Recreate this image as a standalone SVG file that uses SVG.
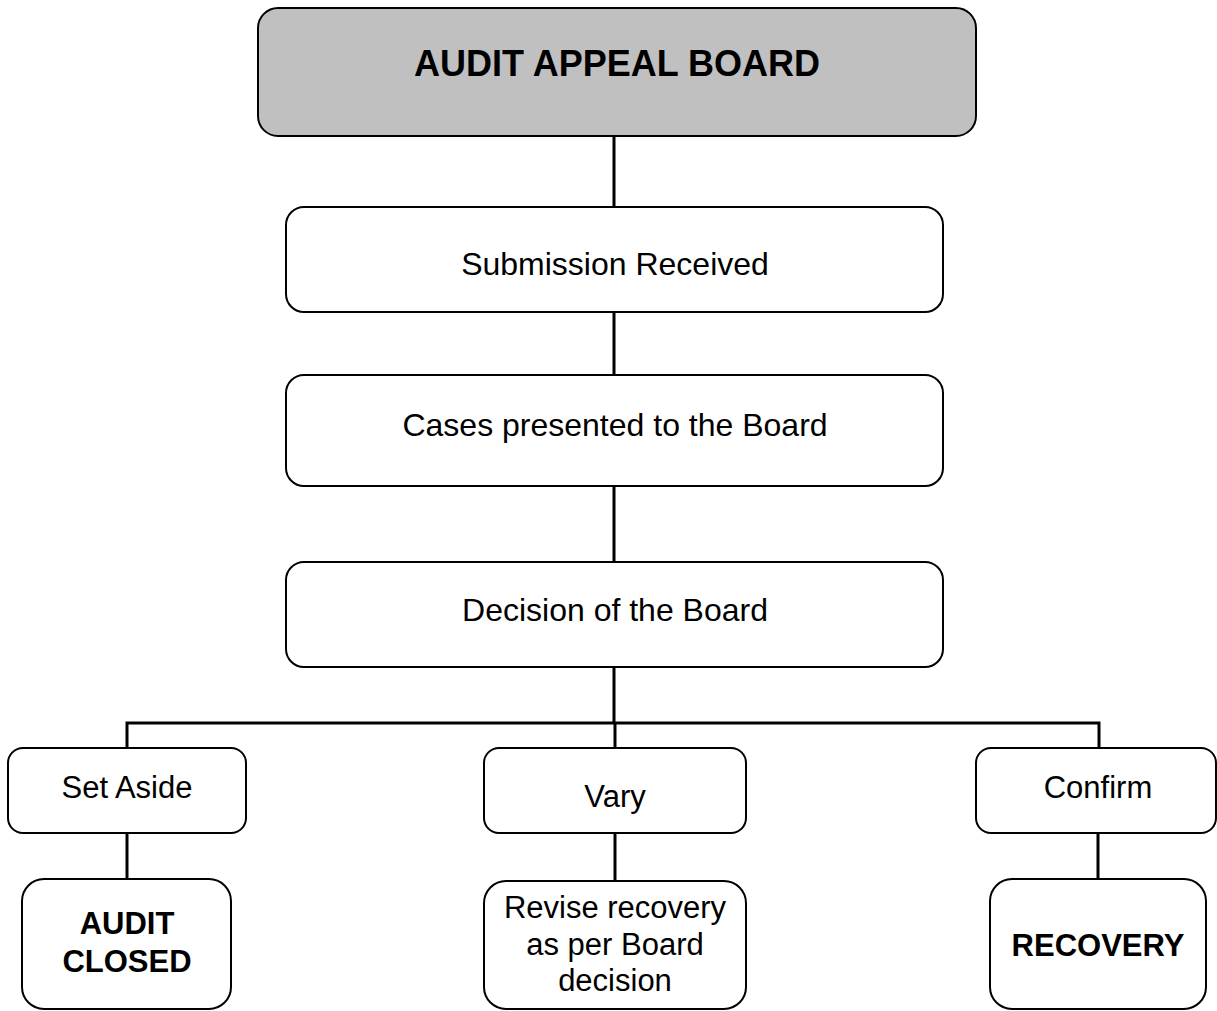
<svg xmlns="http://www.w3.org/2000/svg" width="1217" height="1011" viewBox="0 0 1217 1011">
<style>
.box{fill:#fff;stroke:#000;stroke-width:2}
.top{fill:#c0c0c0;stroke:#000;stroke-width:2}
.t{font-family:"Liberation Sans",Arial,sans-serif;font-size:31px;text-anchor:middle;fill:#000}
.b{font-weight:bold}
.c{fill:none;stroke:#000;stroke-width:3}
</style>
<rect width="1217" height="1011" fill="#fff"/>
<g id="connectors">
<path class="c" d="M614 136V207"/>
<path class="c" d="M614 312V375"/>
<path class="c" d="M614 486V562"/>
<path class="c" d="M614 667V723"/>
<path class="c" d="M127 748V723H1099V748"/>
<path class="c" d="M615 723V748"/>
<path class="c" d="M127 833V879"/>
<path class="c" d="M615 833V881"/>
<path class="c" d="M1098 833V879"/>
</g>
<g id="audit-appeal-board">
<rect class="top" x="258" y="8" width="718" height="128" rx="20"/>
<text class="t b" x="617" y="76" style="font-size:36px">AUDIT APPEAL BOARD</text>
</g>
<g id="submission-received">
<rect class="box" x="286" y="207" width="657" height="105" rx="18"/>
<text class="t" x="615" y="275" style="font-size:32px">Submission Received</text>
</g>
<g id="cases-presented">
<rect class="box" x="286" y="375" width="657" height="111" rx="18"/>
<text class="t" x="615" y="436" style="font-size:32px">Cases presented to the Board</text>
</g>
<g id="decision">
<rect class="box" x="286" y="562" width="657" height="105" rx="18"/>
<text class="t" x="615" y="621" style="font-size:32px">Decision of the Board</text>
</g>
<g id="set-aside">
<rect class="box" x="8" y="748" width="238" height="85" rx="15"/>
<text class="t" x="127" y="798">Set Aside</text>
</g>
<g id="vary">
<rect class="box" x="484" y="748" width="262" height="85" rx="15"/>
<text class="t" x="615" y="807">Vary</text>
</g>
<g id="confirm">
<rect class="box" x="976" y="748" width="240" height="85" rx="15"/>
<text class="t" x="1098" y="798">Confirm</text>
</g>
<g id="audit-closed">
<rect class="box" x="22" y="879" width="209" height="130" rx="22"/>
<text class="t b" x="127" y="934">AUDIT</text>
<text class="t b" x="127" y="972">CLOSED</text>
</g>
<g id="revise-recovery">
<rect class="box" x="484" y="881" width="262" height="128" rx="22"/>
<text class="t" x="615" y="918">Revise recovery</text>
<text class="t" x="615" y="955">as per Board</text>
<text class="t" x="615" y="991">decision</text>
</g>
<g id="recovery">
<rect class="box" x="990" y="879" width="216" height="130" rx="22"/>
<text class="t b" x="1098" y="956">RECOVERY</text>
</g>
</svg>
